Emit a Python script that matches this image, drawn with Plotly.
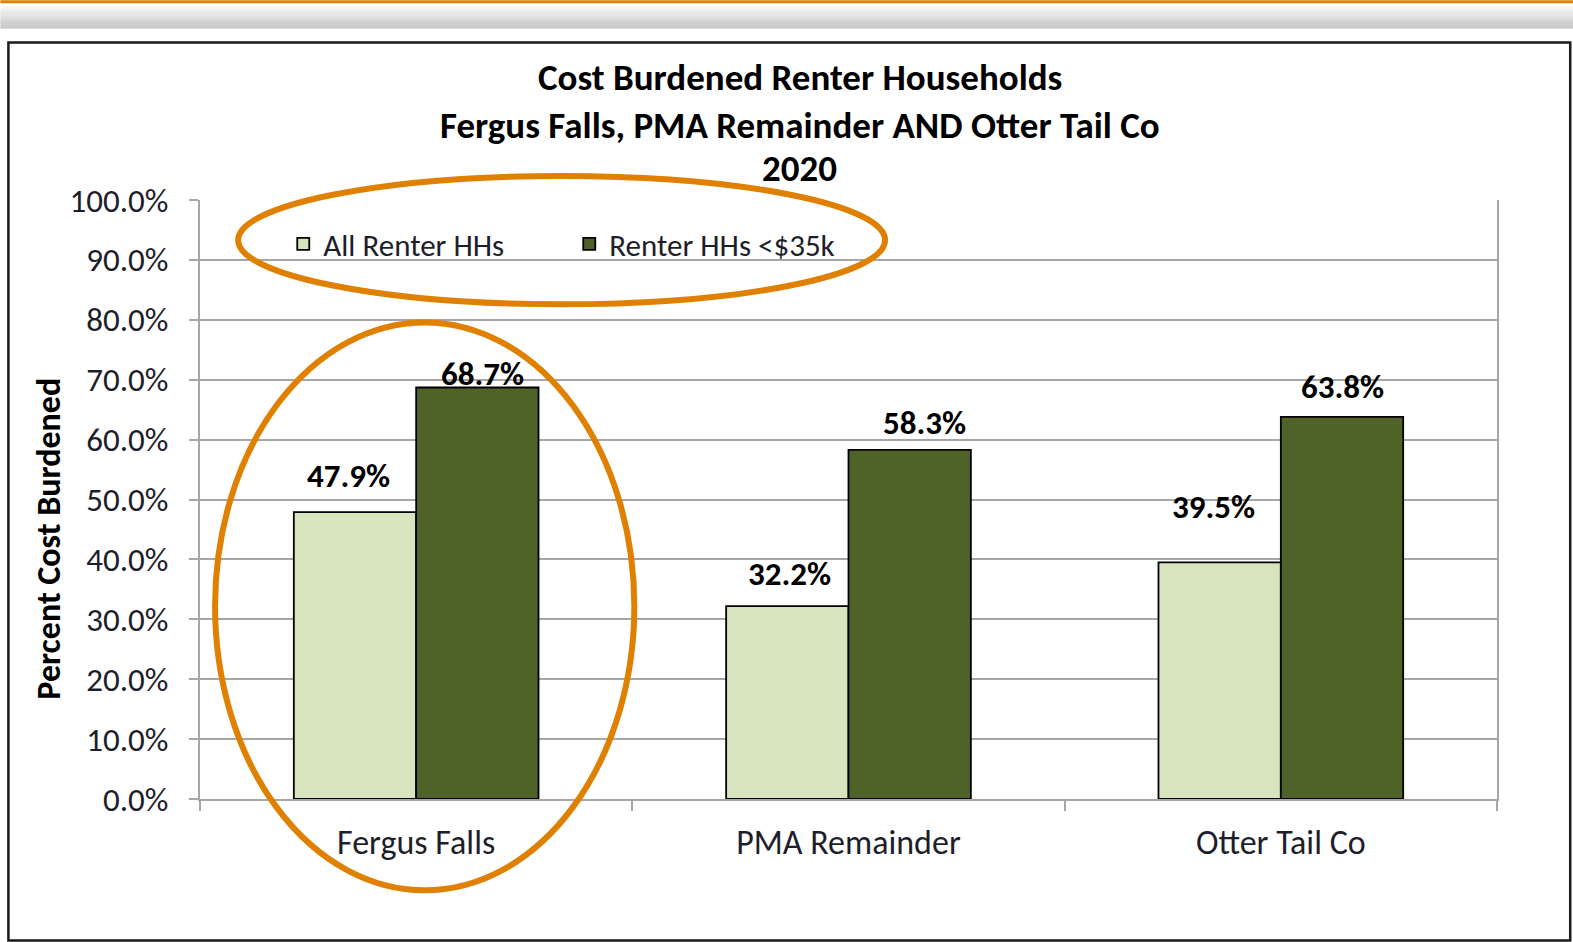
import plotly.graph_objects as go

# ---- data ----
categories = ["Fergus Falls", "PMA Remainder", "Otter Tail Co"]
series_names = ["All Renter HHs", "Renter HHs <$35k"]
all_renter = [47.9, 32.2, 39.5]
renter_lt35k = [68.7, 58.3, 63.8]
y_ticks = [0, 10, 20, 30, 40, 50, 60, 70, 80, 90, 100]
y_tick_text = ["0.0%", "10.0%", "20.0%", "30.0%", "40.0%", "50.0%",
               "60.0%", "70.0%", "80.0%", "90.0%", "100.0%"]
title_lines = ["Cost Burdened Renter Households",
               "Fergus Falls, PMA Remainder AND Otter Tail Co",
               "2020"]
y_title = "Percent Cost Burdened"

# ---- styling ----
W, H = 1573, 942
S = 1573 / 1568                       # layout measured on a 1568-wide view
L, R, T, B = 199 * S, 1492 * S, 199 * S, 796 * S   # plot area in pixels
FONT = "Carlito, Lato, Open Sans, sans-serif"
LIGHT = "#D7E4BD"
DARK = "#4F6228"
ORANGE = "#DF8000"
GRID = "#A6A6A6"
TXT = "#1E1E2A"
BARGAP = 0.434

# label pixel nudges (dx, dy above bar top) -- styling only
lab_shift_all = [(-6, 36), (2, 32), (-6, 55)]
lab_shift_lt = [(5, 13), (15, 27), (0, 30)]


def px(x):
    return (x * S - L) / (R - L)


def py(y):
    return (B - y * S) / (B - T)


fig = go.Figure()
fig.add_trace(go.Bar(x=categories, y=all_renter, name=series_names[0],
                     marker=dict(color=LIGHT, line=dict(color="#000000", width=1.8))))
fig.add_trace(go.Bar(x=categories, y=renter_lt35k, name=series_names[1],
                     marker=dict(color=DARK, line=dict(color="#000000", width=1.8))))

half = (1 - BARGAP) / 4
annotations = []
for i, (v, (dx, dy)) in enumerate(zip(all_renter, lab_shift_all)):
    annotations.append(dict(x=i - half, y=v, xref="x", yref="y", text=f"{v:.1f}%",
                            showarrow=False, yanchor="middle", xshift=dx, yshift=dy,
                            font=dict(family=FONT, size=33, color="#000000", weight="bold")))
for i, (v, (dx, dy)) in enumerate(zip(renter_lt35k, lab_shift_lt)):
    annotations.append(dict(x=i + half, y=v, xref="x", yref="y", text=f"{v:.1f}%",
                            showarrow=False, yanchor="middle", xshift=dx, yshift=dy,
                            font=dict(family=FONT, size=33, color="#000000", weight="bold")))

for line, ycen in zip(title_lines, [77, 125, 168]):
    annotations.append(dict(x=px(797), y=py(ycen), xref="paper", yref="paper", text=line,
                            showarrow=False, xanchor="center", yanchor="middle",
                            font=dict(family=FONT, size=37, color="#000000", weight="bold")))

# y-axis title (placed like the original, slightly below the plot centre)
annotations.append(dict(x=px(48), y=py(537), xref="paper", yref="paper", text=y_title,
                        showarrow=False, textangle=-90, xanchor="center", yanchor="middle",
                        font=dict(family=FONT, size=34, color="#000000", weight="bold")))

shapes = []
# top orange rule
shapes.append(dict(type="rect", xref="paper", yref="paper", x0=px(0), x1=px(1570),
                   y0=py(3), y1=py(0), line=dict(width=0), fillcolor=ORANGE, layer="below"))
# grey shadow band
n = 12
for k in range(n):
    y0 = 6 + k * 22 / n
    g = int(250 - 55 * (k + 1) / n)
    shapes.append(dict(type="rect", xref="paper", yref="paper", x0=px(0), x1=px(1570),
                       y0=py(y0 + 22 / n), y1=py(y0), line=dict(width=0),
                       fillcolor=f"rgb({g},{g},{g})", layer="below"))
# outer black frame
shapes.append(dict(type="rect", xref="paper", yref="paper", x0=px(8), x1=px(1565),
                   y0=py(937), y1=py(42), line=dict(color="#1A1A1A", width=2.5),
                   fillcolor="rgba(0,0,0,0)", layer="below"))
# orange highlight ellipses
shapes.append(dict(type="circle", xref="paper", yref="paper", x0=px(237), x1=px(882),
                   y0=py(303), y1=py(175), line=dict(color=ORANGE, width=6)))
shapes.append(dict(type="circle", xref="paper", yref="paper", x0=px(214), x1=px(632),
                   y0=py(887), y1=py(321), line=dict(color=ORANGE, width=6)))

fig.update_layout(
    width=W, height=H,
    margin=dict(l=L, r=W - R, t=T, b=H - B, pad=0),
    paper_bgcolor="#FFFFFF", plot_bgcolor="#FFFFFF",
    barmode="group", bargap=BARGAP, bargroupgap=0,
    font=dict(family=FONT, color=TXT),
    showlegend=True,
    legend=dict(orientation="h", x=px(282), y=py(243), xanchor="left", yanchor="middle",
                font=dict(family=FONT, size=31, color=TXT), bgcolor="rgba(0,0,0,0)",
                entrywidth=241, entrywidthmode="pixels", itemwidth=30, traceorder="normal"),
    annotations=annotations,
    shapes=shapes,
    xaxis=dict(type="category", showgrid=False, showline=True, linecolor=GRID, linewidth=2,
               mirror=False, ticks="outside", tickson="boundaries", ticklen=10,
               tickcolor=GRID, tickwidth=2, ticklabelstandoff=12,
               tickfont=dict(family=FONT, size=34, color=TXT)),
    yaxis=dict(range=[0, 100], tickmode="array", tickvals=y_ticks, ticktext=y_tick_text,
               showgrid=True, gridcolor=GRID, gridwidth=2, zeroline=False,
               showline=True, linecolor=GRID, linewidth=2, mirror=True,
               ticks="outside", ticklen=9, tickcolor=GRID, tickwidth=2,
               ticklabelstandoff=14,
               tickfont=dict(family=FONT, size=33, color=TXT)),
)

fig.write_html("out.html", config={"displayModeBar": False},
               post_script="document.body.style.margin='0';")
